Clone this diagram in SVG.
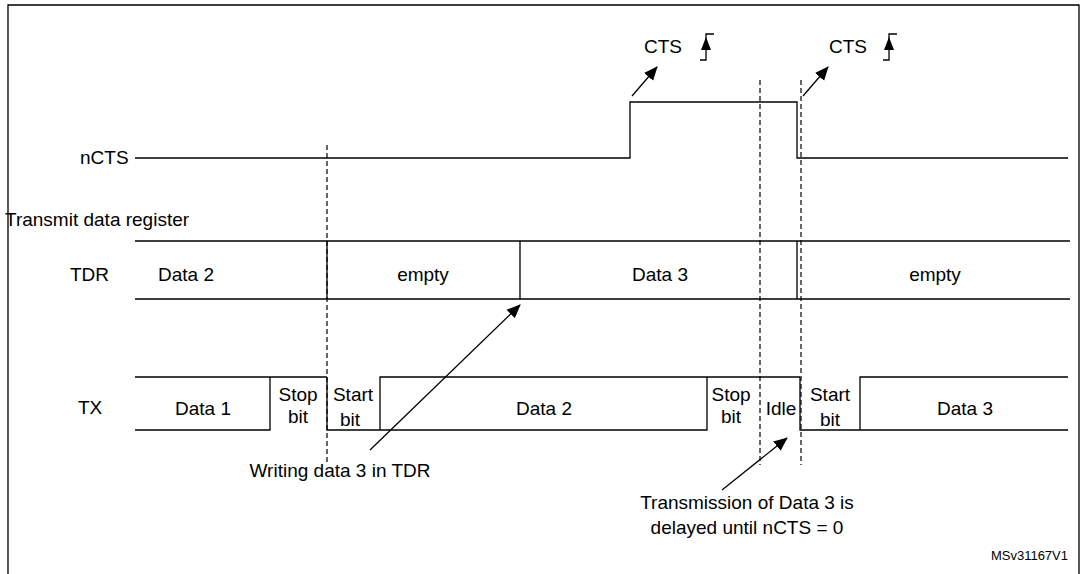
<svg xmlns="http://www.w3.org/2000/svg" width="1085" height="574" viewBox="0 0 1085 574">
<defs>
<style>
text{font-family:"Liberation Sans",Arial,sans-serif;font-size:19px;fill:#000}
.m{text-anchor:middle}
.s{stroke:#000;stroke-width:1.3;fill:none}
.d{stroke:#000;stroke-width:1.2;stroke-dasharray:5,3;fill:none}
</style>
<marker id="ah2" markerWidth="14" markerHeight="14" refX="13" refY="7" orient="auto" markerUnits="userSpaceOnUse" viewBox="0 0 14 14"><path d="M0,1 L14,7 L0,13 z" fill="#000"/></marker>
</defs>
<rect width="1085" height="574" fill="#fff"/>
<path d="M8,574 V5 H1079 V574" class="s" stroke-width="2"/>
<g id="labels">
<text x="80" y="164">nCTS</text>
<text x="5" y="226">Transmit data register</text>
<text x="70" y="281">TDR</text>
<text x="78" y="414">TX</text>
<text x="1068" y="560" text-anchor="end" style="font-size:13px">MSv31167V1</text>
</g>
<g id="ncts">
<path class="s" d="M135,158 H630 V102 H797 V158 H1068"/>
</g>
<g id="cts1">
<text x="644" y="53">CTS</text>
<path class="s" d="M700,60 H706 V34 H714"/>
<path d="M706,37 L701,50 H711 z" fill="#000"/>
</g>
<g id="cts2">
<text x="829" y="53">CTS</text>
<path class="s" d="M883,60 H889 V34 H897"/>
<path d="M889,37 L884,50 H894 z" fill="#000"/>
</g>
<g id="tdr">
<path class="s" d="M135,241 H1070 M135,299 H1070 M327,241 V299 M520,241 V299 M797,241 V299"/>
<text class="m" x="186" y="281">Data 2</text>
<text class="m" x="423" y="281">empty</text>
<text class="m" x="660" y="281">Data 3</text>
<text class="m" x="935" y="281">empty</text>
</g>
<g id="tx">
<path class="s" d="M135,377 H327 M135,430 H270 V377 M327,377 V430 H380 V377 H760 H800 M380,430 H707 V377 M800,377 V430 H860 V377 H1068 M860,430 H1068"/>
<text class="m" x="203" y="415">Data 1</text>
<text class="m" x="298" y="401">Stop</text><text class="m" x="298" y="423">bit</text>
<text class="m" x="353" y="401">Start</text><text class="m" x="350" y="426">bit</text>
<text class="m" x="544" y="415">Data 2</text>
<text class="m" x="731" y="401">Stop</text><text class="m" x="731" y="423">bit</text>
<text class="m" x="781" y="415">Idle</text>
<text class="m" x="830" y="401">Start</text><text class="m" x="830" y="426">bit</text>
<text class="m" x="965" y="415">Data 3</text>
</g>
<g id="connectors">
<path class="d" d="M327,145 V465 M760,80 V465 M801,80 V465"/>
<line class="s" x1="632" y1="96" x2="657" y2="67" marker-end="url(#ah2)"/>
<line class="s" x1="803" y1="96" x2="828" y2="67" marker-end="url(#ah2)"/>
<line class="s" x1="370" y1="450" x2="520" y2="305" marker-end="url(#ah2)"/>
<line class="s" x1="722" y1="490" x2="787" y2="438" marker-end="url(#ah2)"/>
</g>
<g id="notes">
<text class="m" x="340" y="477">Writing data 3 in TDR</text>
<text class="m" x="747" y="509">Transmission of Data 3 is</text>
<text class="m" x="747" y="534">delayed until nCTS = 0</text>
</g>
</svg>
